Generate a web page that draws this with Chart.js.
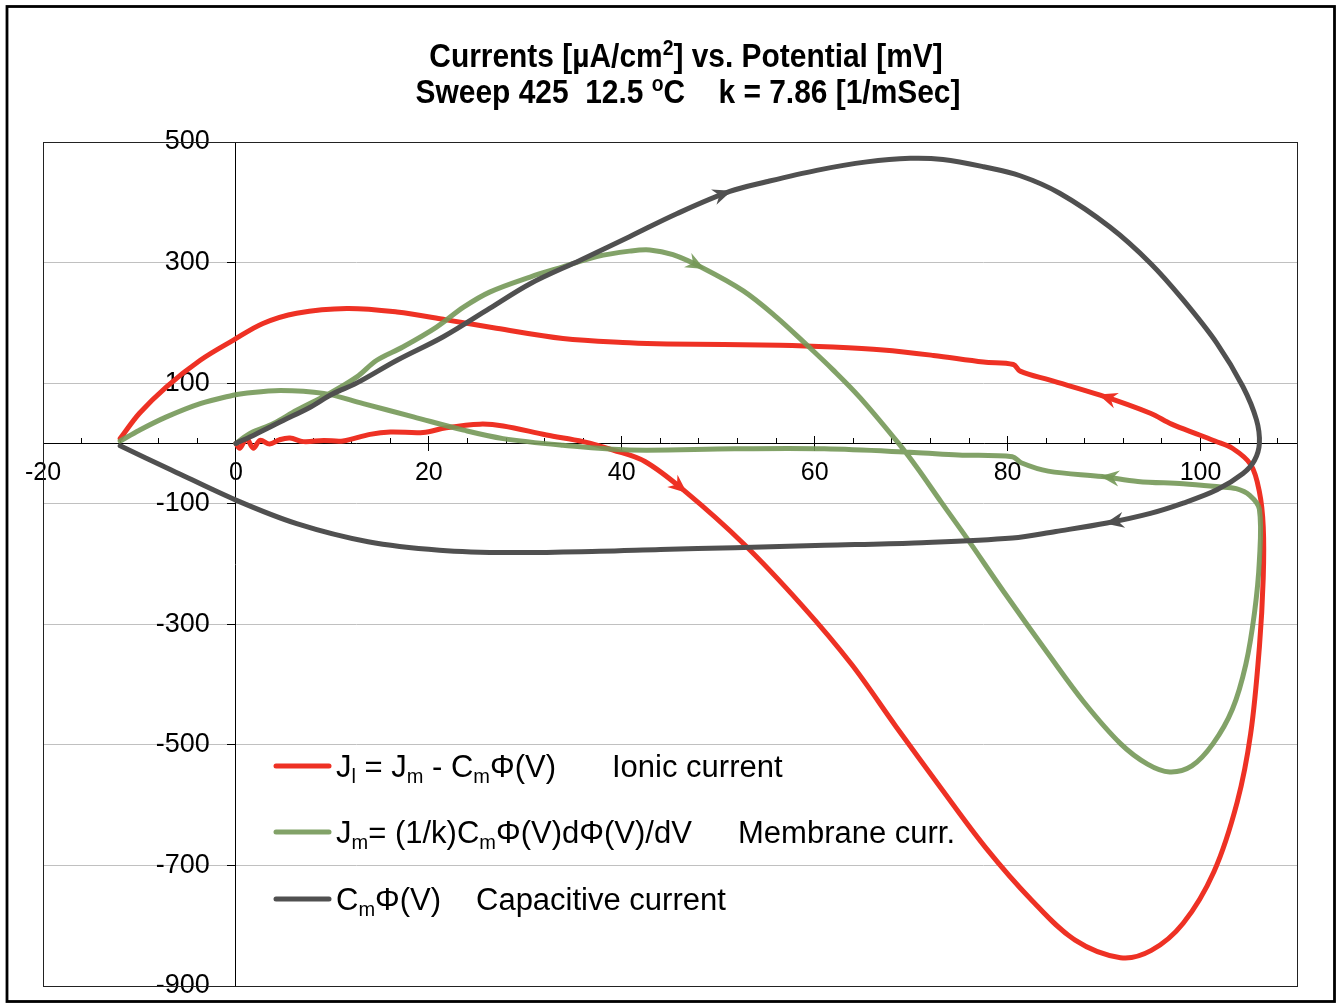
<!DOCTYPE html>
<html>
<head>
<meta charset="utf-8">
<title>Currents vs. Potential</title>
<script src="https://cdn.jsdelivr.net/npm/chart.js@4.4.1/dist/chart.umd.min.js"></script>
<style>
    html, body { margin: 0; padding: 0; background: #ffffff; }
    #wrap { width: 1338px; height: 1003px; }
</style>
</head>
<body>
<div id="wrap"><canvas id="ivChart" width="1338" height="1003"></canvas></div>
<script>
// Title lines (_{..} = subscript, ^{..} = superscript)
const titleLines = [
    'Currents [µA/cm^{2}] vs. Potential [mV]',
    'Sweep 425  12.5 ^{o}C    k = 7.86 [1/mSec]'
];

// Legend texts
const legendFormulas = [
    'J_{l} = J_{m} - C_{m}Φ(V)',
    'J_{m}= (1/k)C_{m}Φ(V)dΦ(V)/dV',
    'C_{m}Φ(V)'
];
const legendNames = ['Ionic current', 'Membrane curr.', 'Capacitive current'];

// Axis ranges
const xRange = [-20, 110];
const yRange = [-900, 500];

// Curves: [potential mV, current µA/cm2], in sweep order
const ionicCurve = [
    [0, 0], [0.4, -8], [1.1, 8], [1.8, -8], [2.5, 5], [3.5, -1], [4.5, 6], [5.6, 9], [7, 3],
    [9.1, 5], [11.1, 4], [13.9, 15], [16, 19], [19.4, 18], [21.8, 26], [25.3, 32], [27.7, 29],
    [32.2, 14], [36, 3], [39.1, -11], [42.4, -30], [46.6, -80], [52.6, -166], [58.7, -269],
    [63.8, -366], [68.4, -469], [73.1, -572], [77.7, -670], [82.4, -756], [87, -824],
    [91.7, -853], [94.9, -841], [98.2, -796], [101.4, -710], [103.8, -595], [105.2, -481],
    [106.1, -338], [106.5, -223], [106.5, -138], [106.1, -80], [105.2, -35], [103.3, -8],
    [101.5, 4], [99.9, 14], [97, 32], [94.8, 50], [89.6, 80], [84.4, 105], [81.3, 120],
    [80.6, 131], [77.5, 135], [72.3, 146], [67.1, 155], [61.9, 160], [56.4, 163], [44.7, 165],
    [40.8, 167], [33.9, 174], [27, 191], [21.8, 205], [16.7, 218], [11.5, 224], [6.3, 216],
    [2.8, 199], [-0.3, 171], [-3.7, 138], [-7.2, 94], [-10, 50], [-12, 8]
];
const membraneCurve = [
    [0, 0], [1.5, 17], [3.9, 33], [6.3, 55], [9.7, 83], [12.5, 110], [14.6, 138], [17.3, 160],
    [20.8, 193], [23.6, 226], [26.3, 251], [30.5, 276], [33.9, 293], [37.4, 310], [40.8, 319],
    [42.9, 321], [45.3, 313], [48.4, 291], [52.6, 253], [56, 210], [59.2, 163], [61.9, 122],
    [64.7, 76], [68.7, 0], [70.6, -40], [73.1, -97], [75.9, -160], [79.6, -246], [84.2, -349],
    [87.9, -429], [91.7, -498], [94.5, -532], [96.8, -545], [99.1, -535], [101.3, -498],
    [103.3, -441], [104.7, -366], [105.6, -280], [106.1, -195], [106.1, -109], [105.1, -86],
    [103.7, -75], [101.9, -72], [98.2, -67], [93.5, -63], [89.8, -55], [84.2, -46], [81.4, -32],
    [80.5, -22], [74.9, -19], [70.3, -15], [61, -9], [51.7, -9], [40.8, -11], [33.9, -3],
    [27.7, 8], [23.6, 22], [18.4, 44], [13.2, 66], [9.1, 83], [4.6, 88], [0.8, 83], [-0.3, 80],
    [-3.7, 66], [-7.2, 44], [-10, 22], [-12, 4]
];
const capacitiveCurve = [
    [0, 0], [2, 15], [4.9, 38], [7.7, 60], [10, 82], [12.5, 100], [16.7, 138], [21.5, 177],
    [26.3, 224], [30.5, 265], [35.7, 304], [40.8, 343], [45.7, 381], [51.2, 418], [55, 434],
    [60.2, 453], [65.4, 467], [69.9, 473], [73.3, 471], [77.5, 459], [81.3, 444], [85.4, 415],
    [90.6, 359], [94.8, 299], [98.2, 238], [101.7, 166], [104.4, 94], [105.8, 39], [106.1, 0],
    [105.6, -28], [104.4, -50], [101.7, -77], [98.2, -99], [94.8, -116], [90.3, -132],
    [85, -146], [80.5, -157], [70.3, -165], [61, -169], [51.7, -173], [44, -176], [37.7, -179],
    [28.5, -181], [21.1, -177], [13.7, -163], [6.3, -133], [0, -94], [-6.7, -44], [-12, -4]
];

// Points (index into each curve) that carry a direction arrow
const ionicArrows = [21, 46];
const membraneArrows = [17, 45];
const capacitiveArrows = [13, 34];

const FONT = "'Liberation Sans', Arial, sans-serif";
const colors = ['#ee3124', 'rgba(116,152,88,0.9)', '#505050'];

Chart.defaults.font.family = FONT;
Chart.defaults.color = '#000000';

function toPoints(curve) {
    return curve.map(p => ({ x: p[0], y: p[1] }));
}

// Split "a_{b}c^{d}" into normal / sub / sup pieces
function richSegments(text) {
    const parts = [];
    const re = /([_^])\{([^}]*)\}/g;
    let last = 0;
    let m;
    while ((m = re.exec(text)) !== null) {
        if (m.index > last) parts.push({ text: text.slice(last, m.index), kind: 'normal' });
        parts.push({ text: m[2], kind: m[1] === '_' ? 'sub' : 'sup' });
        last = re.lastIndex;
    }
    if (last < text.length) parts.push({ text: text.slice(last), kind: 'normal' });
    return parts;
}

function drawRichText(ctx, text, x, y, size, weight, align, scaleX) {
    const sx = scaleX || 1;
    const parts = richSegments(text);
    const fontFor = p => `${weight} ${p.kind === 'normal' ? size : Math.round(size * 0.66)}px ${FONT}`;
    let total = 0;
    parts.forEach(p => {
        ctx.font = fontFor(p);
        p.w = ctx.measureText(p.text).width;
        total += p.w;
    });
    ctx.save();
    ctx.translate(x, y);
    ctx.scale(sx, 1);
    let cx = align === 'center' ? -total / 2 : 0;
    ctx.textAlign = 'left';
    ctx.textBaseline = 'alphabetic';
    parts.forEach(p => {
        ctx.font = fontFor(p);
        const dy = p.kind === 'sub' ? size * 0.2 : (p.kind === 'sup' ? -size * 0.36 : 0);
        ctx.fillText(p.text, cx, dy);
        cx += p.w;
    });
    ctx.restore();
}

// Arrow head with its tip on a point, pointing along the curve
function drawArrowHead(ctx, prev, tip, next, color) {
    const ang = Math.atan2(next.y - prev.y, next.x - prev.x);
    ctx.save();
    ctx.translate(tip.x, tip.y);
    ctx.rotate(ang);
    ctx.beginPath();
    ctx.moveTo(2, 0);
    ctx.lineTo(-17, -8);
    ctx.lineTo(-11, 0);
    ctx.lineTo(-17, 8);
    ctx.closePath();
    ctx.fillStyle = color;
    ctx.fill();
    ctx.restore();
}

const framePlugin = {
    id: 'frames',
    beforeDraw(chart) {
        const ctx = chart.ctx;
        ctx.save();
        ctx.fillStyle = '#ffffff';
        ctx.fillRect(0, 0, chart.width, chart.height);
        ctx.strokeStyle = '#000000';
        ctx.lineWidth = 2.8;
        ctx.strokeRect(7, 6.5, 1327.5, 995);
        ctx.restore();
    },
    beforeDatasetsDraw(chart) {
        const a = chart.chartArea;
        const ctx = chart.ctx;
        ctx.save();
        ctx.strokeStyle = '#222222';
        ctx.lineWidth = 1;
        ctx.strokeRect(a.left + 0.5, a.top + 0.5, a.right - a.left, a.bottom - a.top);
        ctx.restore();
    }
};

const arrowPlugin = {
    id: 'arrows',
    afterDatasetsDraw(chart) {
        const ctx = chart.ctx;
        chart.data.datasets.forEach((ds, i) => {
            const pts = chart.getDatasetMeta(i).data;
            ds.arrows.forEach(idx => {
                drawArrowHead(ctx, pts[idx - 1], pts[idx], pts[idx + 1], ds.borderColor);
            });
        });
    }
};

const textPlugin = {
    id: 'texts',
    afterDraw(chart) {
        const ctx = chart.ctx;
        ctx.save();
        ctx.fillStyle = '#000000';
        // Title
        drawRichText(ctx, titleLines[0], 686, 67, 34, 'bold', 'center', 0.88);
        drawRichText(ctx, titleLines[1], 688, 103, 34, 'bold', 'center', 0.88);

        // Legend
        const rowY = [766, 832, 899];
        const nameX = [612, 738, 476];
        chart.data.datasets.forEach((ds, i) => {
            ctx.strokeStyle = ds.borderColor;
            ctx.lineWidth = 5;
            ctx.lineCap = 'round';
            ctx.beginPath();
            ctx.moveTo(276, rowY[i]);
            ctx.lineTo(329, rowY[i]);
            ctx.stroke();
            ctx.fillStyle = '#000000';
            drawRichText(ctx, legendFormulas[i], 336, rowY[i] + 11, 31, 'normal', 'left');
            drawRichText(ctx, legendNames[i], nameX[i], rowY[i] + 11, 31, 'normal', 'left');
        });
        ctx.restore();
    }
};

function makeDataset(label, curve, color, arrows, order) {
    return {
        label: label,
        data: toPoints(curve),
        showLine: true,
        borderColor: color,
        backgroundColor: color,
        borderWidth: 5,
        pointRadius: 0,
        tension: 0.35,
        borderCapStyle: 'round',
        borderJoinStyle: 'round',
        arrows: arrows,
        order: order
    };
}

const xAxisBase = {
    type: 'linear',
    axis: 'x',
    min: xRange[0],
    max: xRange[1],
    position: { y: 0 }
};
const yAxisBase = {
    type: 'linear',
    axis: 'y',
    min: yRange[0],
    max: yRange[1]
};

new Chart(document.getElementById('ivChart'), {
    type: 'scatter',
    data: {
        datasets: [
            makeDataset(legendNames[0], ionicCurve, colors[0], ionicArrows, 3),
            makeDataset(legendNames[1], membraneCurve, colors[1], membraneArrows, 2),
            makeDataset(legendNames[2], capacitiveCurve, colors[2], capacitiveArrows, 1)
        ]
    },
    options: {
        responsive: false,
        devicePixelRatio: 1,
        animation: false,
        layout: { padding: { left: 43, top: 142, right: 41, bottom: 17 } },
        plugins: {
            legend: { display: false },
            title: { display: false },
            tooltip: { enabled: false }
        },
        scales: {
            x: Object.assign({}, xAxisBase, {
                ticks: { stepSize: 20, includeBounds: false, font: { size: 25 }, color: '#000000', padding: 8 },
                grid: { drawOnChartArea: false, tickLength: 7, color: '#000000' },
                border: { display: true, color: '#000000', width: 1 }
            }),
            xUp: Object.assign({}, xAxisBase, {
                ticks: { display: false, stepSize: 20, includeBounds: false },
                grid: { drawOnChartArea: false, tickLength: -7, color: '#000000' },
                border: { display: false }
            }),
            xMinor: Object.assign({}, xAxisBase, {
                ticks: { display: false, stepSize: 4, includeBounds: false },
                grid: { drawOnChartArea: false, tickLength: -5, color: '#000000' },
                border: { display: false }
            }),
            y: Object.assign({}, yAxisBase, {
                position: { x: -2.7 },
                ticks: { stepSize: 200, font: { size: 27 }, color: '#000000', padding: 0 },
                grid: { color: '#c0c0c0', lineWidth: 1, drawTicks: false },
                border: { display: false }
            }),
            yLine: Object.assign({}, yAxisBase, {
                position: { x: 0 },
                ticks: { display: false, stepSize: 200 },
                grid: { drawOnChartArea: false, tickLength: 8, color: '#000000' },
                border: { display: true, color: '#000000', width: 1 }
            })
        }
    },
    plugins: [framePlugin, arrowPlugin, textPlugin]
});
</script>
</body>
</html>
